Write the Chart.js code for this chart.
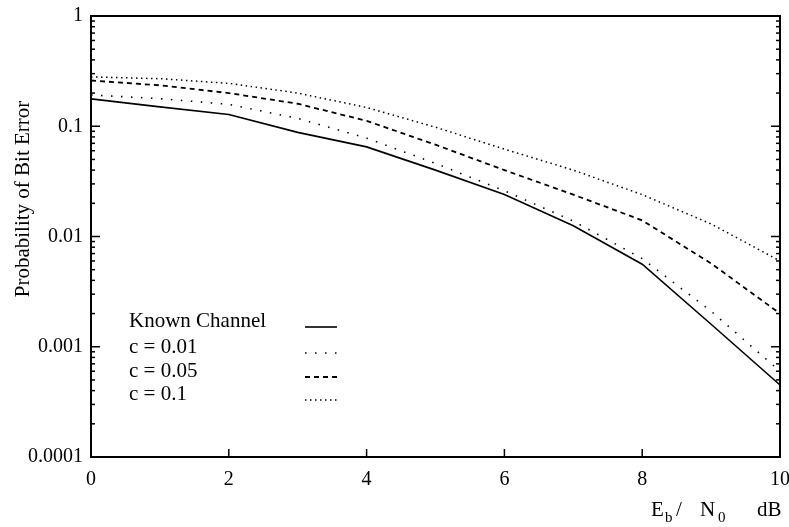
<!DOCTYPE html>
<html>
<head>
<meta charset="utf-8">
<script src="https://cdn.jsdelivr.net/npm/chart.js@4.4.1/dist/chart.umd.min.js"></script>
<style>
  html, body { margin: 0; padding: 0; background: #fff; }
</style>
</head>
<body>
<canvas id="myChart" width="789" height="527"></canvas>
<script>
// Eb/N0 in dB
const snrDb = [0, 1, 2, 3, 4, 5, 6, 7, 8, 9, 10];

// probability of bit error
const knownChannel = [0.177, 0.150, 0.128, 0.088, 0.065, 0.040, 0.024, 0.0125, 0.0056, 0.0016, 0.00045];
const c001 = [0.192, 0.178, 0.158, 0.118, 0.078, 0.046, 0.026, 0.0138, 0.0063, 0.0021, 0.0006];
const c005 = [0.26, 0.235, 0.20, 0.16, 0.112, 0.068, 0.040, 0.024, 0.014, 0.0057, 0.002];
const c01 = [0.28, 0.27, 0.245, 0.20, 0.148, 0.098, 0.062, 0.040, 0.024, 0.013, 0.006];

const seriesLabels = ["Known Channel", "c = 0.01", "c = 0.05", "c = 0.1"];
const yTickValues = [0.0001, 0.001, 0.01, 0.1, 1];
const yTickLabels = ["0.0001", "0.001", "0.01", "0.1", "1"];
const xTickValues = [0, 2, 4, 6, 8, 10];

const serif = "'Liberation Serif', 'Times New Roman', serif";

const toPoints = (ys) => snrDb.map((x, i) => ({ x: x, y: ys[i] }));

const styles = [
  { dash: [], width: 1.6 },
  { dash: [1.5, 8.5], width: 1.6 },
  { dash: [5, 4], width: 1.8 },
  { dash: [1.5, 3.5], width: 1.5 },
];

const allSeries = [knownChannel, c001, c005, c01];

const datasets = allSeries.map((ys, i) => ({
  label: seriesLabels[i],
  data: toPoints(ys),
  borderColor: "#000",
  borderWidth: styles[i].width,
  borderDash: styles[i].dash,
  pointRadius: 0,
  fill: false,
  tension: 0,
}));

// box, inward ticks, legend and axis titles
const decor = {
  id: "decor",
  afterDraw(chart) {
    const ctx = chart.ctx;
    const a = chart.chartArea;
    const x = chart.scales.x;
    const y = chart.scales.y;
    ctx.save();
    ctx.strokeStyle = "#000";
    ctx.lineWidth = 2;
    ctx.setLineDash([]);
    ctx.strokeRect(a.left, a.top, a.right - a.left, a.bottom - a.top);

    ctx.lineWidth = 1.5;
    const line = (x1, y1, x2, y2) => {
      ctx.beginPath();
      ctx.moveTo(x1, y1);
      ctx.lineTo(x2, y2);
      ctx.stroke();
    };
    for (let e = -4; e <= 0; e++) {
      for (let m = 1; m <= 9; m++) {
        const v = m * Math.pow(10, e);
        if (v > 1.0001) break;
        const py = y.getPixelForValue(v);
        const len = m === 1 ? 9 : 4;
        line(a.left, py, a.left + len, py);
        line(a.right - len, py, a.right, py);
      }
    }
    xTickValues.forEach((v) => {
      const px = x.getPixelForValue(v);
      line(px, a.bottom, px, a.bottom - 8);
    });

    // legend
    ctx.fillStyle = "#000";
    ctx.font = "21px " + serif;
    ctx.textBaseline = "alphabetic";
    ctx.textAlign = "left";
    const rows = [327, 353, 377, 400];
    chart.data.datasets.forEach((ds, i) => {
      ctx.fillText(ds.label, 129, rows[i]);
      ctx.setLineDash(ds.borderDash);
      ctx.lineWidth = ds.borderWidth;
      line(305, rows[i], 337, rows[i]);
    });
    ctx.setLineDash([]);

    // y title
    ctx.save();
    ctx.translate(23, 199);
    ctx.rotate(-Math.PI / 2);
    ctx.textAlign = "center";
    ctx.textBaseline = "middle";
    ctx.font = "21px " + serif;
    ctx.fillText("Probability of Bit Error", 0, 0);
    ctx.restore();

    // x title: Eb / N0   dB
    const big = "21px " + serif;
    const small = "15px " + serif;
    const parts = [
      ["E", big, 651, 516],
      ["b", small, 665, 522],
      ["/", big, 676, 516],
      ["N", big, 700, 516],
      ["0", small, 718, 522],
      ["dB", big, 757, 516],
    ];
    parts.forEach((p) => {
      ctx.font = p[1];
      ctx.fillText(p[0], p[2], p[3]);
    });
    ctx.restore();
  },
};

new Chart("myChart", {
  type: "line",
  data: { datasets: datasets },
  plugins: [decor],
  options: {
    responsive: false,
    animation: false,
    devicePixelRatio: 1,
    layout: { padding: { left: 0, right: 9, top: 16, bottom: 0 } },
    plugins: {
      legend: { display: false },
      tooltip: { enabled: false },
    },
    scales: {
      x: {
        type: "linear",
        min: 0,
        max: 10,
        afterBuildTicks: (s) => { s.ticks = xTickValues.map((v) => ({ value: v })); },
        ticks: {
          color: "#000",
          font: { family: serif, size: 20 },
          padding: 11,
          maxRotation: 0,
        },
        grid: { drawOnChartArea: false, drawTicks: false },
        border: { display: false },
        afterFit: (s) => {
          s.height = 70;
          s.paddingLeft = 0;
          s.paddingRight = 0;
        },
      },
      y: {
        type: "logarithmic",
        min: 0.0001,
        max: 1,
        afterBuildTicks: (s) => { s.ticks = yTickValues.map((v) => ({ value: v })); },
        ticks: {
          color: "#000",
          font: { family: serif, size: 20 },
          padding: 8,
          callback: (v) => yTickLabels[yTickValues.indexOf(v)],
        },
        grid: { drawOnChartArea: false, drawTicks: false },
        border: { display: false },
        afterFit: (s) => {
          s.width = 91;
          s.paddingTop = 0;
          s.paddingBottom = 0;
        },
      },
    },
  },
});
</script>
</body>
</html>
